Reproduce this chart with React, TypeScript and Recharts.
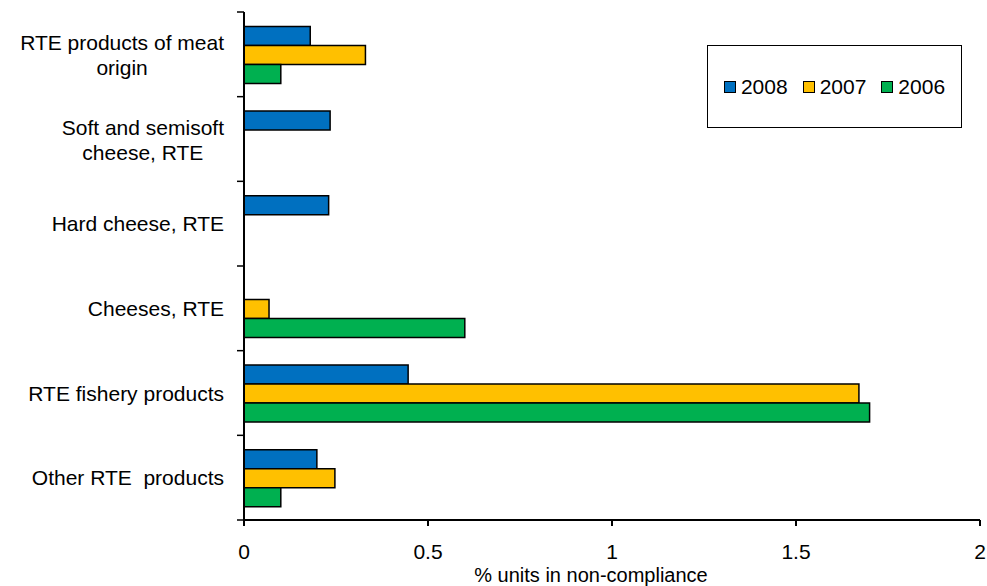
import React from "react";
import { Bar, BarChart, Legend, XAxis, YAxis } from "recharts";

const FONT = "'Liberation Sans', Arial, sans-serif";

// categories, top to bottom ("\n" marks a line break in the label)
const categories = [
  "RTE products of meat\norigin",
  "Soft and semisoft\ncheese, RTE",
  "Hard cheese, RTE",
  "Cheeses, RTE",
  "RTE fishery products",
  "Other RTE  products",
];

const values2008 = [0.18, 0.234, 0.23, null, 0.446, 0.198];
const values2007 = [0.33, null, null, 0.068, 1.671, 0.247];
const values2006 = [0.1, null, null, 0.6, 1.7, 0.1];

const xTicks = [0, 0.5, 1, 1.5, 2];

const seriesNames = ["2008", "2007", "2006"];
const seriesColors = ["#0070C0", "#FFC000", "#00B050"];

const data = categories.map((name, i) => ({
  name,
  y2008: values2008[i],
  y2007: values2007[i],
  y2006: values2006[i],
}));

// measure text width for centring multi-line labels
let ctx: CanvasRenderingContext2D | null = null;
const measure = (s: string) => {
  if (!ctx) ctx = document.createElement("canvas").getContext("2d");
  if (!ctx) return s.length * 10;
  ctx.font = `21px ${FONT}`;
  return ctx.measureText(s).width;
};

const CategoryTick = (props: any) => {
  const { x, y, payload, index } = props;
  const half = payload?.offset || 42.33;
  const lines = String(payload.value).split("\n");
  const maxW = Math.max(...lines.map(measure));
  const cx = x - 20 - maxW / 2;
  const firstBaseline = lines.length > 1 ? y - 4.5 : y + 7.5;
  return (
    <g>
      <line x1={x - 7} x2={x} y1={y - half} y2={y - half} stroke="#000" strokeWidth={1.5} />
      {index === categories.length - 1 && (
        <line x1={x - 7} x2={x} y1={y + half} y2={y + half} stroke="#000" strokeWidth={1.5} />
      )}
      <text
        textAnchor="middle"
        fontSize={21}
        fontFamily={FONT}
        fill="#000"
        style={{ whiteSpace: "pre" }}
      >
        {lines.map((l, i) => (
          <tspan key={i} x={cx} y={firstBaseline + i * 25}>
            {l}
          </tspan>
        ))}
      </text>
    </g>
  );
};

const AxisTitle = (props: any) => {
  const vb = props.viewBox || { x: 244, y: 520, width: 736, height: 66 };
  return (
    <text
      x={vb.x + vb.width / 2 - 21}
      y={vb.y + vb.height - 4}
      textAnchor="middle"
      fontSize={20}
      fontFamily={FONT}
      fill="#000"
    >
      % units in non-compliance
    </text>
  );
};

const LegendBox = () => (
  <div
    style={{
      boxSizing: "border-box",
      width: 255,
      height: 83,
      border: "1.5px solid #000",
      background: "#fff",
      display: "flex",
      alignItems: "center",
      justifyContent: "center",
      fontFamily: FONT,
      fontSize: 21,
      color: "#000",
    }}
  >
    {seriesNames.map((name, i) => (
      <div key={name} style={{ display: "flex", alignItems: "center", marginLeft: i ? 15 : 0 }}>
        <span
          style={{
            display: "inline-block",
            boxSizing: "border-box",
            width: 12,
            height: 12,
            background: seriesColors[i],
            border: "1.5px solid #000",
            marginRight: 5,
          }}
        />
        <span>{name}</span>
      </div>
    ))}
  </div>
);

export default function App() {
  return (
    <div style={{ position: "absolute", left: 0, top: 0, width: 987, height: 586, background: "#fff" }}>
      <BarChart
        width={987}
        height={586}
        data={data}
        layout="vertical"
        margin={{ top: 12, right: 7, left: 0, bottom: 0 }}
        barCategoryGap="17%"
        barGap={0}
      >
        <XAxis
          type="number"
          domain={[0, 2]}
          ticks={xTicks}
          height={66}
          tickSize={6}
          tickMargin={18}
          stroke="#000"
          strokeWidth={2}
          tick={{ fill: "#000", fontSize: 21, fontFamily: FONT }}
          tickFormatter={(v: number) => String(v)}
          label={<AxisTitle />}
        />
        <YAxis
          type="category"
          dataKey="name"
          width={244}
          tickLine={false}
          tickSize={0}
          tickMargin={0}
          stroke="#000"
          strokeWidth={2}
          tick={<CategoryTick />}
          interval={0}
        />
        <Legend
          layout="horizontal"
          verticalAlign="middle"
          align="center"
          content={<LegendBox />}
          wrapperStyle={{ left: 707, top: 45, width: 255, height: 83 }}
        />
        {["y2008", "y2007", "y2006"].map((key, i) => (
          <Bar
            key={key}
            dataKey={key}
            name={seriesNames[i]}
            fill={seriesColors[i]}
            stroke="#000"
            strokeWidth={1.5}
            isAnimationActive={false}
          />
        ))}
      </BarChart>
    </div>
  );
}
